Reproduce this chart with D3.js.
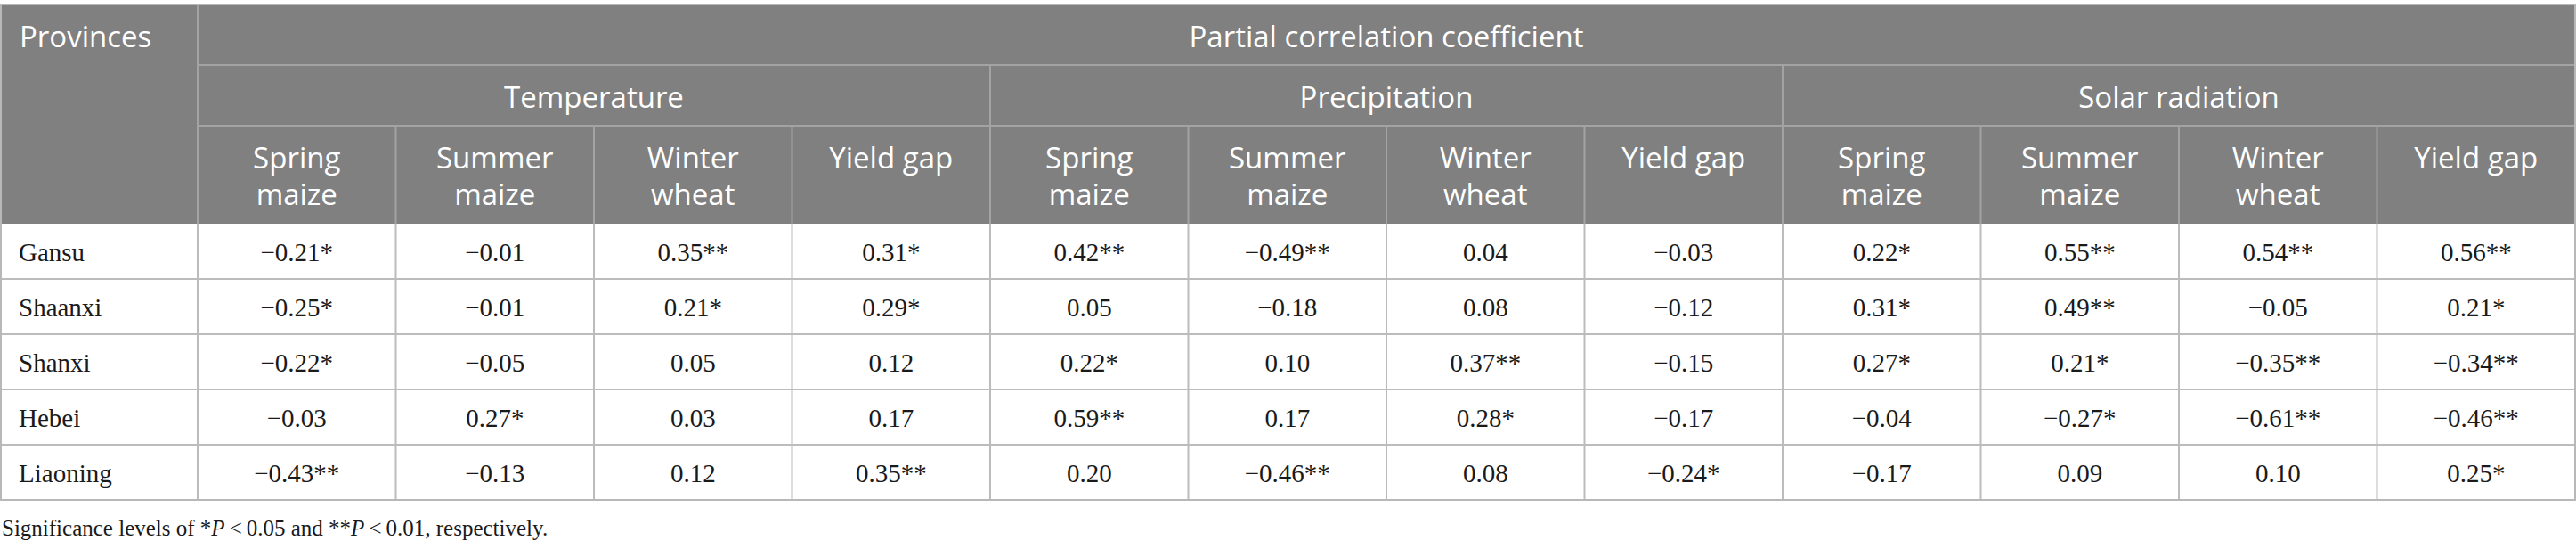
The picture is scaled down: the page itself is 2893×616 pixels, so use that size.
<!DOCTYPE html>
<html>
<head>
<meta charset="utf-8">
<script src="https://cdn.jsdelivr.net/npm/d3@7"></script>
<style>
  body { margin: 0; background: #fff; }
  svg { display: block; }
</style>
</head>
<body>
<svg id="table" width="2893" height="616"></svg>
<script>
var provinces = ["Gansu", "Shaanxi", "Shanxi", "Hebei", "Liaoning"]
var groups = ["Temperature", "Precipitation", "Solar radiation"]
var crops = [["Spring", "maize"], ["Summer", "maize"], ["Winter", "wheat"], ["Yield gap"]]

// 12 values per province: temperature x4, precipitation x4, solar radiation x4
var coefGansu    = [-0.21, -0.01, 0.35, 0.31,  0.42, -0.49, 0.04, -0.03,  0.22, 0.55, 0.54, 0.56]
var coefShaanxi  = [-0.25, -0.01, 0.21, 0.29,  0.05, -0.18, 0.08, -0.12,  0.31, 0.49, -0.05, 0.21]
var coefShanxi   = [-0.22, -0.05, 0.05, 0.12,  0.22, 0.10, 0.37, -0.15,  0.27, 0.21, -0.35, -0.34]
var coefHebei    = [-0.03, 0.27, 0.03, 0.17,  0.59, 0.17, 0.28, -0.17,  -0.04, -0.27, -0.61, -0.46]
var coefLiaoning = [-0.43, -0.13, 0.12, 0.35,  0.20, -0.46, 0.08, -0.24,  -0.17, 0.09, 0.10, 0.25]

// number of asterisks (1: P<0.05, 2: P<0.01)
var sigGansu    = [1, 0, 2, 1,  2, 2, 0, 0,  1, 2, 2, 2]
var sigShaanxi  = [1, 0, 1, 1,  0, 0, 0, 0,  1, 2, 0, 1]
var sigShanxi   = [1, 0, 0, 0,  1, 0, 2, 0,  1, 1, 2, 2]
var sigHebei    = [0, 1, 0, 0,  2, 0, 1, 0,  0, 1, 2, 2]
var sigLiaoning = [2, 0, 0, 2,  0, 2, 0, 1,  0, 0, 0, 1]

var coefs = [coefGansu, coefShaanxi, coefShanxi, coefHebei, coefLiaoning]
var sigs = [sigGansu, sigShaanxi, sigShanxi, sigHebei, sigLiaoning]

var svg = d3.select("#table")

var headFill = "#808080"
var headLine = "#a3a3a3"
var bodyLine = "#bcbcbc"
var sansFont = "'Open Sans', 'Noto Sans', sans-serif"
var serifFont = "'Liberation Serif', 'DejaVu Serif', serif"

var left = 1, right = 2892, firstW = 222
var tTop = 5, h1 = 73, h2 = 141, headBottom = 251, tBottom = 561

var colIdx = d3.range(12)
var x = d3.scaleBand().domain(colIdx).range([firstW, right])
var groupX = d3.scaleBand().domain(groups).range([firstW, right])
var y = d3.scaleBand().domain(provinces).range([headBottom, tBottom])

var fmt = d3.format(".2f")

// header background
svg.append("rect")
  .attr("x", left).attr("y", tTop)
  .attr("width", right - left).attr("height", headBottom - tTop)
  .style("fill", headFill)

// header lines
var hl = svg.append("g").style("stroke", headLine).style("stroke-width", 2)
hl.append("line").attr("x1", firstW).attr("x2", right).attr("y1", h1).attr("y2", h1)
hl.append("line").attr("x1", firstW).attr("x2", right).attr("y1", h2).attr("y2", h2)
hl.append("line").attr("x1", firstW).attr("x2", firstW).attr("y1", tTop).attr("y2", headBottom)
hl.selectAll("groupsep")
  .data(groups.slice(1))
  .enter()
  .append("line")
    .attr("x1", function(d){ return groupX(d) })
    .attr("x2", function(d){ return groupX(d) })
    .attr("y1", h1).attr("y2", headBottom)
hl.selectAll("colsep")
  .data(colIdx.filter(function(i){ return i % 4 != 0 }))
  .enter()
  .append("line")
    .attr("x1", function(d){ return x(d) })
    .attr("x2", function(d){ return x(d) })
    .attr("y1", h2).attr("y2", headBottom)

// header texts
var ht = svg.append("g").style("fill", "#fff").style("font-family", sansFont).style("font-size", "33px")
ht.append("text").attr("x", 22).attr("y", 53).text("Provinces")
ht.append("text")
  .attr("x", (firstW + right) / 2).attr("y", 53)
  .attr("text-anchor", "middle")
  .text("Partial correlation coefficient")
ht.selectAll("grouplabels")
  .data(groups)
  .enter()
  .append("text")
    .attr("x", function(d){ return groupX(d) + groupX.bandwidth() / 2 })
    .attr("y", 121)
    .attr("text-anchor", "middle")
    .text(function(d){ return d })

var cropCols = colIdx.map(function(i){ return { i: i, lines: crops[i % 4] } })
ht.selectAll("croplabels")
  .data(cropCols)
  .enter()
  .append("text")
    .attr("x", function(d){ return x(d.i) + x.bandwidth() / 2 })
    .attr("y", 189)
    .attr("text-anchor", "middle")
    .each(function(d){
      var t = d3.select(this)
      d.lines.forEach(function(l, k){
        t.append("tspan")
          .attr("x", x(d.i) + x.bandwidth() / 2)
          .attr("dy", k == 0 ? 0 : 41)
          .text(l)
      })
    })

// body lines
var bl = svg.append("g").style("stroke", bodyLine).style("stroke-width", 2).style("fill", "none")
bl.selectAll("rowsep")
  .data(provinces.slice(1))
  .enter()
  .append("line")
    .attr("x1", left).attr("x2", right)
    .attr("y1", function(d){ return y(d) })
    .attr("y2", function(d){ return y(d) })
bl.selectAll("bodycols")
  .data(colIdx)
  .enter()
  .append("line")
    .attr("x1", function(d){ return x(d) })
    .attr("x2", function(d){ return x(d) })
    .attr("y1", headBottom).attr("y2", tBottom)

// outer frame
svg.append("rect")
  .attr("x", left).attr("y", tTop)
  .attr("width", right - left).attr("height", tBottom - tTop)
  .style("fill", "none").style("stroke", "#b8b8b8").style("stroke-width", 2)

// body texts
var bt = svg.append("g").style("fill", "#1a1a1a").style("font-family", serifFont).style("font-size", "29px")
bt.selectAll("provlabels")
  .data(provinces)
  .enter()
  .append("text")
    .attr("x", 21)
    .attr("y", function(d){ return y(d) + 42 })
    .text(function(d){ return d })

var cells = []
provinces.forEach(function(p, r){
  coefs[r].forEach(function(v, c){
    cells.push({ p: p, c: c, v: v, s: sigs[r][c] })
  })
})
bt.selectAll("cells")
  .data(cells)
  .enter()
  .append("text")
    .attr("x", function(d){ return x(d.c) + x.bandwidth() / 2 })
    .attr("y", function(d){ return y(d.p) + 42 })
    .attr("text-anchor", "middle")
    .text(function(d){ return fmt(d.v) + "*".repeat(d.s) })

// footnote
var fn = svg.append("text")
  .attr("x", 2).attr("y", 601)
  .style("font-family", serifFont).style("font-size", "25px").style("fill", "#1a1a1a")
fn.append("tspan").text("Significance levels of *")
fn.append("tspan").style("font-style", "italic").text("P")
fn.append("tspan").text("\u2009<\u20090.05 and **")
fn.append("tspan").style("font-style", "italic").text("P")
fn.append("tspan").text("\u2009<\u20090.01, respectively.")
</script>
</body>
</html>
